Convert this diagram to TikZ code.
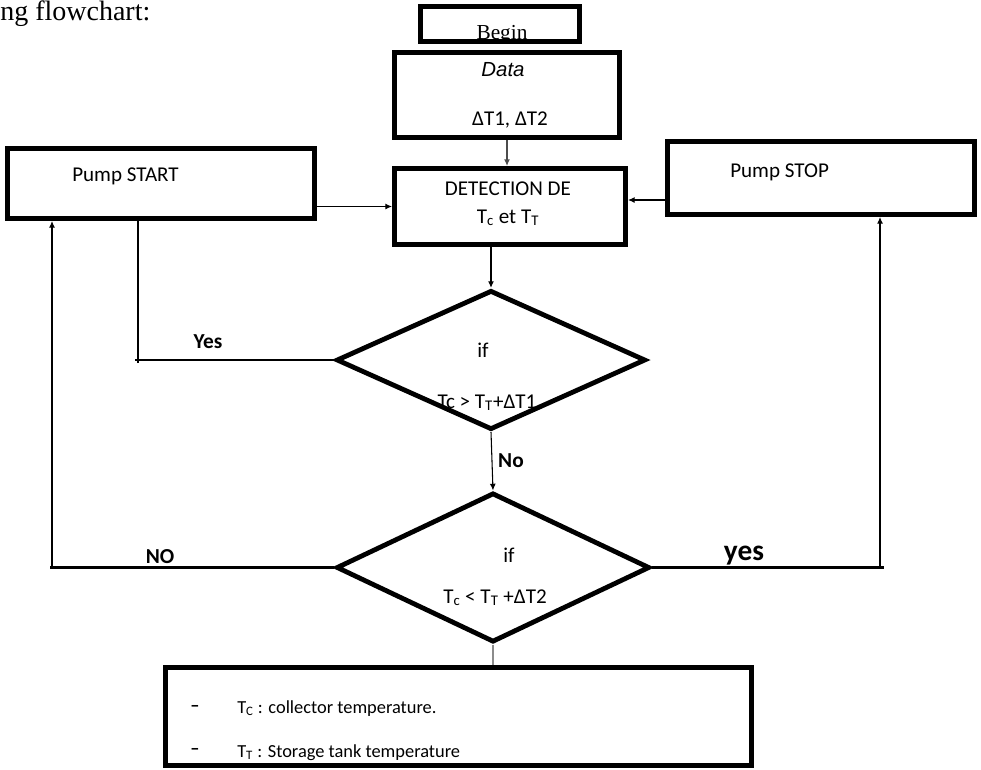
\documentclass[tikz,border=0pt]{standalone}
\usepackage{fontspec}
\setmainfont{Carlito}
\newfontfamily\timesf{Liberation Serif}
\newfontfamily\arialf{Liberation Sans}
\usetikzlibrary{shapes.geometric,arrows.meta}
\begin{document}
\begin{tikzpicture}[x=0.75pt,y=-0.75pt,
  box/.style={draw,line width=3.6pt,inner sep=0pt,rectangle},
  dia/.style={draw,line width=3.6pt,diamond,inner sep=0pt},
  thinln/.style={line width=0.8pt},
  branch/.style={line width=2.2pt},
  arr/.style={-{Latex[length=5pt,width=4.5pt]}},
  txt/.style={inner sep=0pt,font=\fontsize{15.8}{18}\selectfont},
  smalltxt/.style={inner sep=0pt,font=\fontsize{13.8}{16}\selectfont},
  lbl/.style={inner sep=0pt,font=\fontsize{16}{19}\selectfont\bfseries}]
\useasboundingbox (0,0) rectangle (981,769);
% title
\node[anchor=base west,inner sep=0pt,font=\timesf\fontsize{21}{24}\selectfont] (title) at (0,20) {ng flowchart:};
% boxes
\node[box,line width=3.75pt,minimum width=119.25pt,minimum height=26.25pt] (begin) at (500,23.5) {};
\node[box,minimum width=168.9pt,minimum height=63.9pt] (data) at (507,95) {};
\node[box,minimum width=173.4pt,minimum height=57.15pt] (det) at (510,206.5) {};
\node[box,minimum width=230.4pt,minimum height=52.65pt] (pstart) at (161,183.5) {};
\node[box,minimum width=230.4pt,minimum height=54.9pt] (pstop) at (821,178) {};
\node[box,minimum width=439.65pt,minimum height=73.65pt] (bot) at (458.5,716.5) {};
\node[dia,minimum width=232pt,minimum height=104.5pt] (d1) at (491,360) {};
\node[dia,minimum width=235pt,minimum height=112pt] (d2) at (493,567.5) {};
% texts
\node[anchor=base,inner sep=0pt,font=\timesf\fontsize{16}{18}\selectfont] (tbegin) at (502,39) {Begin};
\node[anchor=base,inner sep=0pt,font=\arialf\itshape\fontsize{15.3}{18}\selectfont] (tdata) at (503,76) {Data};
\node[txt,anchor=base] (tdelta) at (510,125) {ΔT1, ΔT2};
\node[txt,anchor=base] (tdet1) at (508,195) {DETECTION DE};
\node[txt,anchor=base] (tdet2) at (508,223) {T\textsubscript{c} et T\textsubscript{T}};
\node[txt,anchor=base west] (tstart) at (72,181) {Pump START};
\node[txt,anchor=base west] (tstop) at (730,177) {Pump STOP};
\node[txt,anchor=base] (if1) at (483,357) {if};
\node[txt,anchor=base] (c1) at (487,408) {Tc > T\textsubscript{T}+ΔT1};
\node[txt,anchor=base] (if2) at (509,562) {if};
\node[txt,anchor=base] (c2) at (495,603) {T\textsubscript{c} < T\textsubscript{T} +ΔT2};
\node[smalltxt,anchor=base west] (dash1) at (190,711) {\textbf{–}};
\node[smalltxt,anchor=base west] (leg1) at (237,713) {T\textsubscript{C} : collector temperature.};
\node[smalltxt,anchor=base west] (dash2) at (190,754) {\textbf{–}};
\node[smalltxt,anchor=base west] (leg2) at (237,757) {T\textsubscript{T} : Storage tank temperature};
% labels
\node[lbl] (lyes1) at (208,341.5) {Yes};
\node[lbl] (lno1) at (511,460.5) {No};
\node[lbl] (lno2) at (160,557) {NO};
\node[lbl,font=\fontsize{22}{24}\selectfont\bfseries] (lyes2) at (744,556) {yes};
% connectors
\draw[arr,line width=1.6pt,black!70] (data.south) -- (data.south |- det.north);
\draw[arr,thinln,line width=1.2pt] (det.south -| d1.north) -- (d1.north);
\draw[arr,thinln] (pstart.east |- det.west) -- (det.west);
\coordinate (sy) at (640,200);
\draw[arr,thinln] (pstop.west |- sy) -- (det.east |- sy);
% Yes branch
\coordinate (yesend) at (135,360);
\coordinate (yv) at (138,363);
\draw[branch] (d1.west) -- (d1.west -| yesend);
\draw[thinln] (yv) -- (yv |- pstart.south);
% No
\draw[arr,thinln] (d1.south) -- (d2.north);
% NO branch
\coordinate (noend) at (50,568);
\coordinate (nov) at (52,568);
\draw[branch] (d2.west) -- (d2.west -| noend);
\draw[arr,thinln] (nov) -- (nov |- pstart.south);
% yes branch
\coordinate (yesR) at (884,568);
\coordinate (yv2) at (880,568);
\draw[branch] (d2.east) -- (d2.east -| yesR);
\draw[arr,thinln] (yv2) -- (yv2 |- pstop.south);
% to legend
\draw[line width=1.5pt,black!45] (d2.south) -- (d2.south |- bot.north);
\end{tikzpicture}
\end{document}
